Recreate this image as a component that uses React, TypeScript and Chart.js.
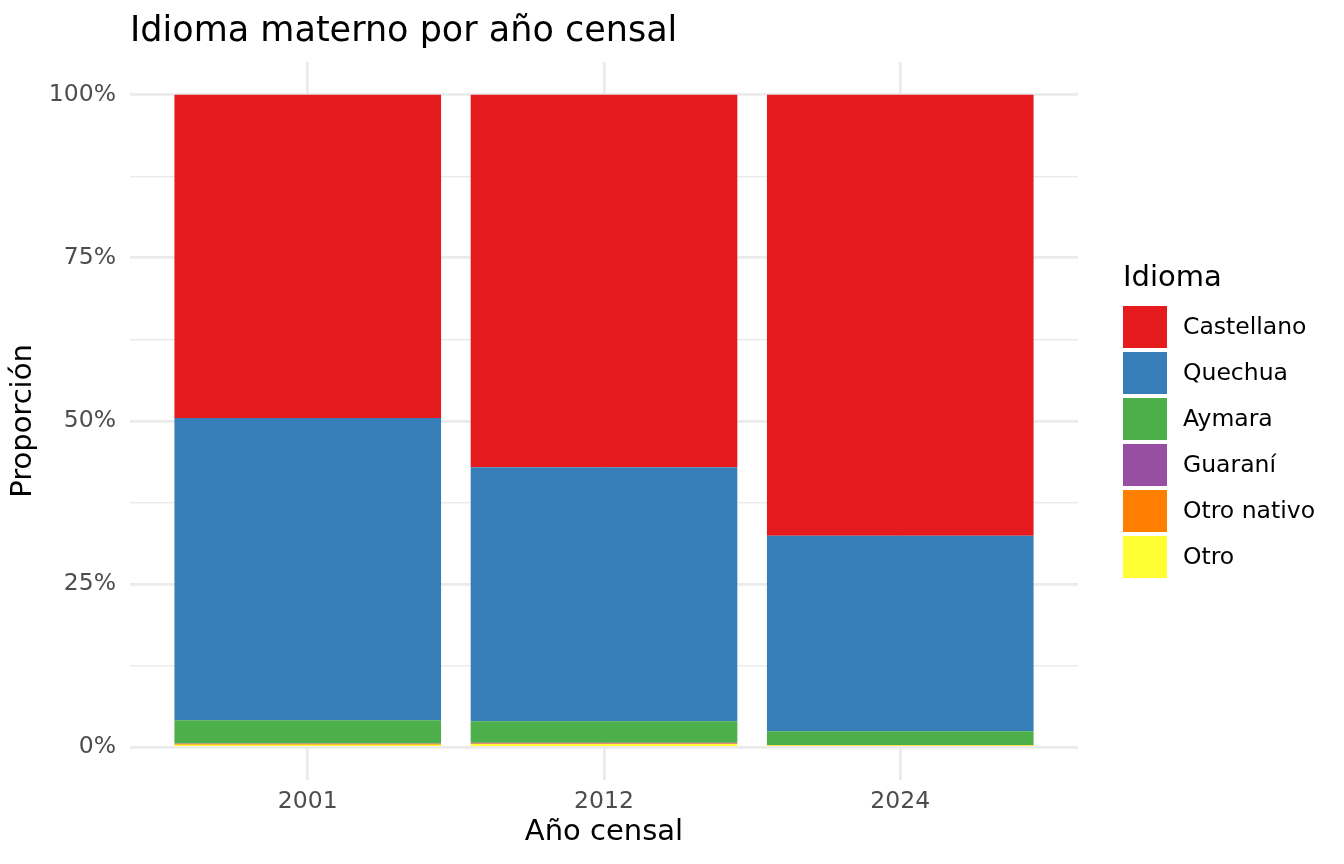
import { useEffect, useRef } from "react";
import { Chart, registerables } from "chart.js";

Chart.register(...registerables);

// census years and share (%) of each mother tongue
const years = ["2001", "2012", "2024"];
const castellano = [49.55, 57.1, 67.58];
const quechua = [46.3, 38.9, 29.95];
const aymara = [3.55, 3.3, 2.1];
const guarani = [0.05, 0.1, 0.02];
const otroNativo = [0.15, 0.1, 0.05];
const otro = [0.4, 0.5, 0.3];

const yMajorTicks = [0, 25, 50, 75, 100];
const yMinorTicks = [12.5, 37.5, 62.5, 87.5];

const FONT = "'DejaVu Sans', sans-serif";
const GRID = "#EBEBEB";

// drawn bottom -> top; legend lists them top -> bottom
const series = [
  { label: "Otro", values: otro, color: "#FFFF33" },
  { label: "Otro nativo", values: otroNativo, color: "#FF7F00" },
  { label: "Guaraní", values: guarani, color: "#984EA3" },
  { label: "Aymara", values: aymara, color: "#4DAF4A" },
  { label: "Quechua", values: quechua, color: "#377EB8" },
  { label: "Castellano", values: castellano, color: "#E41A1C" },
];

const titlePlugin = {
  id: "plotTitle",
  afterDraw(chart: any) {
    const { ctx, chartArea } = chart;
    ctx.save();
    ctx.fillStyle = "#000";
    ctx.font = `35px ${FONT}`;
    ctx.textAlign = "left";
    ctx.textBaseline = "alphabetic";
    ctx.fillText("Idioma materno por año censal", chartArea.left, 41);
    ctx.restore();
  },
};

const legendPlugin = {
  id: "sideLegend",
  afterDraw(chart: any) {
    const { ctx, chartArea } = chart;
    const x = chartArea.right + 45;
    const mid = (chartArea.top + chartArea.bottom) / 2;
    const keysTop = mid - 115;
    ctx.save();
    ctx.fillStyle = "#000";
    ctx.font = `29px ${FONT}`;
    ctx.textAlign = "left";
    ctx.textBaseline = "alphabetic";
    ctx.fillText("Idioma", x, keysTop - 20);
    ctx.font = `23.5px ${FONT}`;
    ctx.textBaseline = "middle";
    const items = [...chart.data.datasets].reverse();
    items.forEach((ds: any, i: number) => {
      const y = keysTop + i * 46;
      ctx.fillStyle = ds.backgroundColor;
      ctx.fillRect(x, y, 44, 42);
      ctx.fillStyle = "#000";
      ctx.fillText(ds.label, x + 60, y + 22);
    });
    ctx.restore();
  },
};

function App() {
  const canvasRef = useRef<HTMLCanvasElement | null>(null);

  useEffect(() => {
    if (!canvasRef.current) return;
    const chart = new Chart(canvasRef.current, {
      type: "bar",
      data: {
        datasets: series.map((s) => ({
          label: s.label,
          data: s.values.map((v, i) => ({ x: i + 1, y: v })),
          backgroundColor: s.color,
          borderWidth: 0,
          barPercentage: 1,
          categoryPercentage: 0.9,
        })),
      },
      options: {
        responsive: false,
        animation: false,
        layout: { padding: { top: 62, right: 266, left: 0, bottom: 0 } },
        plugins: {
          legend: { display: false },
          tooltip: { enabled: false },
        },
        scales: {
          x: {
            type: "linear",
            stacked: true,
            offset: false,
            min: 0.4,
            max: 3.6,
            afterBuildTicks: (scale: any) => {
              scale.ticks = years.map((_, i) => ({ value: i + 1 }));
            },
            afterFit: (scale: any) => {
              scale.height = 84;
            },
            border: { display: false },
            grid: { offset: false, color: GRID, lineWidth: 2.8, drawTicks: false },
            ticks: {
              padding: 8,
              color: "#4D4D4D",
              font: { family: FONT, size: 23.5 },
              callback: (v: any) => years[Math.round(v) - 1] ?? "",
            },
            title: {
              display: true,
              text: "Año censal",
              color: "#000",
              font: { family: FONT, size: 29 },
              padding: { top: 0, bottom: 14 },
            },
          },
          y: {
            stacked: true,
            min: -5,
            max: 105,
            afterBuildTicks: (scale: any) => {
              scale.ticks = [...yMajorTicks, ...yMinorTicks]
                .sort((a, b) => a - b)
                .map((v) => ({ value: v }));
            },
            afterFit: (scale: any) => {
              scale.width = 130;
            },
            border: { display: false },
            grid: {
              color: GRID,
              drawTicks: false,
              lineWidth: (c: any) => (yMajorTicks.includes(c.tick?.value) ? 2.8 : 1.4),
            },
            ticks: {
              padding: 14,
              color: "#4D4D4D",
              font: { family: FONT, size: 23.5 },
              callback: (v: any) => (yMajorTicks.includes(v) ? `${v}%` : ""),
            },
            title: {
              display: true,
              text: "Proporción",
              color: "#000",
              font: { family: FONT, size: 29 },
              padding: { top: 6, bottom: 0 },
            },
          },
        },
      },
      plugins: [titlePlugin, legendPlugin],
    });

    return () => {
      chart.destroy();
    };
  }, []);

  return (
    <div style={{ position: "absolute", left: 0, top: 0, width: 1344, height: 864, background: "#fff" }}>
      <canvas ref={canvasRef} width="1344" height="864"></canvas>
    </div>
  );
}

export default App;
